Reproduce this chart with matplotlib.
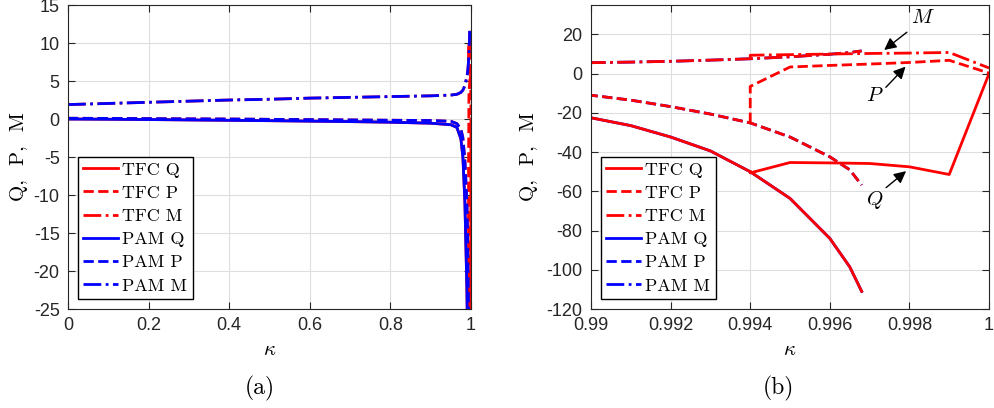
import matplotlib
matplotlib.use("Agg")
import matplotlib.pyplot as plt

plt.rcParams["mathtext.fontset"] = "cm"
plt.rcParams["font.family"] = ["Liberation Sans", "DejaVu Sans"]
plt.rcParams["axes.unicode_minus"] = False

# data
kappa = [0, 0.1, 0.2, 0.3, 0.4, 0.5, 0.6, 0.7, 0.8, 0.9, 0.95, 0.965, 0.975,
         0.98, 0.985, 0.99, 0.991, 0.992, 0.993, 0.994, 0.995, 0.996, 0.9965, 0.9968]
pam_q = [0.0, -0.03, -0.07, -0.12, -0.17, -0.22, -0.28, -0.34, -0.42, -0.55, -0.75, -1.1, -2.6,
         -5.0, -11.0, -22.5, -26.5, -32.3, -39.4, -50.0, -63.6, -84.0, -98.5, -111.0]
pam_p = [0.1, 0.08, 0.05, 0.02, 0.0, -0.04, -0.08, -0.12, -0.16, -0.2, -0.3, -0.6, -1.3,
         -2.5, -5.5, -11.0, -13.5, -16.8, -20.6, -25.1, -32.3, -42.4, -49.0, -56.8]
pam_m = [1.9, 2.05, 2.2, 2.35, 2.5, 2.6, 2.75, 2.85, 2.95, 3.05, 3.15, 3.25, 3.5,
         3.8, 4.4, 5.6, 5.9, 6.3, 6.9, 7.6, 8.6, 9.9, 10.8, 11.6]

# TFC: first branch coincides with PAM, second branch near kappa = 1
tfc_kappa_1 = kappa
tfc_q_1 = pam_q
tfc_p_1 = pam_p
tfc_m_1 = pam_m
tfc_kappa_2 = [0.994, 0.994, 0.995, 0.996, 0.997, 0.998, 0.999, 1.0]
tfc_q_2 = [-50.0, -50.6, -45.3, -45.5, -45.8, -47.5, -51.4, 0.0]
tfc_p_2 = [-25.1, -6.5, 3.4, 4.2, 4.9, 5.7, 6.8, 0.3]
tfc_m_2 = [7.6, 9.4, 9.7, 10.0, 10.3, 10.5, 10.8, 2.9]

labels = ["TFC Q", "TFC P", "TFC M", "PAM Q", "PAM P", "PAM M"]
styles = ["-", "--", "-."]
LW = 2.0
dark = "#262626"

fig = plt.figure(figsize=(9.94, 4.08), dpi=100)
ax1 = fig.add_axes([0.0684, 0.2426, 0.4054, 0.7451])
ax2 = fig.add_axes([0.5946, 0.2426, 0.4004, 0.7451])


def draw_tfc(ax):
    hs = []
    for k, (y1, y2) in enumerate([(tfc_q_1, tfc_q_2), (tfc_p_1, tfc_p_2), (tfc_m_1, tfc_m_2)]):
        h, = ax.plot(tfc_kappa_1, y1, color="red", ls=styles[k], lw=LW)
        ax.plot(tfc_kappa_2, y2, color="red", ls=styles[k], lw=LW)
        hs.append(h)
    return hs


def draw_pam(ax):
    hs = []
    for k, y in enumerate([pam_q, pam_p, pam_m]):
        h, = ax.plot(kappa, y, color="blue", ls=styles[k], lw=LW)
        hs.append(h)
    return hs


def add_legend(ax, hs):
    ax.legend(hs, labels, loc="lower left", prop={"family": "cmr10", "size": 13},
              fancybox=False, edgecolor="k", framealpha=1, borderaxespad=0.55,
              labelspacing=0.42, handlelength=1.9, handletextpad=0.25, borderpad=0.3)


# left: blue on top, right: red on top
h_tfc = draw_tfc(ax1)
h_pam = draw_pam(ax1)
add_legend(ax1, h_tfc + h_pam)

h_pam = draw_pam(ax2)
h_tfc = draw_tfc(ax2)
add_legend(ax2, h_tfc + h_pam)

ax1.set_xlim(0, 1)
ax1.set_ylim(-25, 15)
ax1.set_xticks([0, 0.2, 0.4, 0.6, 0.8, 1])
ax1.set_xticklabels(["0", "0.2", "0.4", "0.6", "0.8", "1"])
ax1.set_yticks(range(-25, 16, 5))

ax2.set_xlim(0.99, 1)
ax2.set_ylim(-120, 35)
ax2.set_xticks([0.99, 0.992, 0.994, 0.996, 0.998, 1])
ax2.set_xticklabels(["0.99", "0.992", "0.994", "0.996", "0.998", "1"])
ax2.set_yticks(range(-120, 21, 20))

for ax in (ax1, ax2):
    ax.grid(True, color="#dedede", lw=0.8)
    ax.set_axisbelow(True)
    ax.tick_params(direction="in", top=True, right=True, length=5, width=0.8,
                   labelsize=13, colors=dark, pad=6)
    for s in ax.spines.values():
        s.set_color(dark)
        s.set_linewidth(0.8)
    ax.set_xlabel(r"$\kappa$", fontsize=15, labelpad=4)
    ax.set_ylabel("Q,  P,  M", fontfamily="cmr10", fontsize=15)

ax1.yaxis.set_label_coords(-0.099, 0.5)
ax2.yaxis.set_label_coords(-0.133, 0.5)

# arrows and labels in panel (b)
notes = [("M", (0.99834, 28.7), (0.99799, 22.0), (0.99731, 11.2)),
         ("P", (0.99712, -11.0), (0.99736, -8.0), (0.99795, 4.6)),
         ("Q", (0.99712, -64.5), (0.99736, -59.0), (0.99797, -48.8))]
for name, tpos, tail, head in notes:
    ax2.text(tpos[0], tpos[1], "$" + name + "$", fontsize=15, ha="center", va="center")
    ax2.annotate("", xy=head, xytext=tail,
                 arrowprops=dict(arrowstyle="-|>", color="k", lw=1, mutation_scale=18))

fig.text(260 / 994, 1 - 388 / 408, "(a)", fontfamily="cmr10", fontsize=17, ha="center", va="center")
fig.text(778 / 994, 1 - 388 / 408, "(b)", fontfamily="cmr10", fontsize=17, ha="center", va="center")

plt.savefig("out.png", dpi=100)
